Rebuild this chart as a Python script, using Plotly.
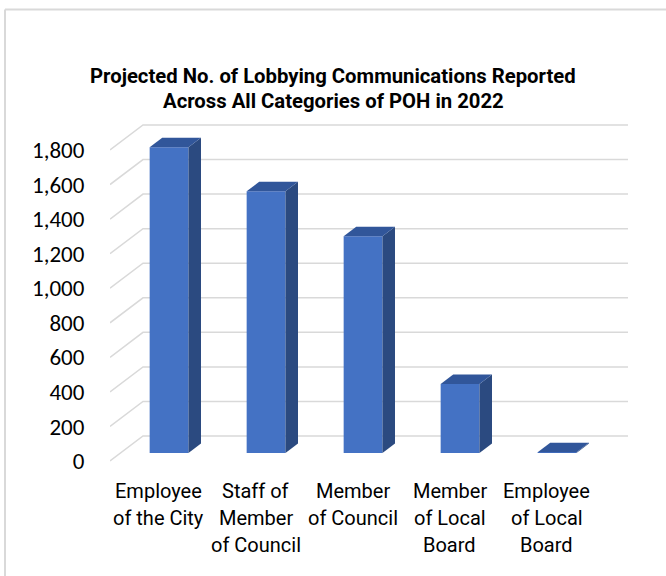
import plotly.graph_objects as go

# ---------------- data ----------------
categories = [
    ["Employee", "of the City"],
    ["Staff of", "Member", "of Council"],
    ["Member", "of Council"],
    ["Member", "of Local", "Board"],
    ["Employee", "of Local", "Board"],
]
values = [1770, 1515, 1255, 400, 5]
tick_values = [0, 200, 400, 600, 800, 1000, 1200, 1400, 1600, 1800]
tick_labels = ["0", "200", "400", "600", "800", "1,000", "1,200", "1,400", "1,600", "1,800"]
title_lines = ["Projected No. of Lobbying Communications Reported",
               "Across All Categories of POH in 2022"]

# ---------------- layout geometry (pixels) ----------------
W, H = 666, 576
ML, MR, MT, MB = 110, 32, 119, 106
PW, PH = W - ML - MR, H - MT - MB
PX_PER_CAT = 97.0
ZERO_PX = 461.0                 # pixel row of value 0 on the front plane
PX_PER_UNIT = 311.0 / 1800.0
DEPTH_PX_X, DEPTH_PX_Y = 33.0, 25.0

x_range = [0, PW / PX_PER_CAT]
y_bottom = -((MT + PH) - ZERO_PX) / PX_PER_UNIT
y_top = (ZERO_PX - MT) / PX_PER_UNIT
DX = DEPTH_PX_X / PX_PER_CAT
DY = DEPTH_PX_Y / PX_PER_UNIT
F1, F2 = 0.32, 0.70   # bar front / back depth fractions
BAR_W = 0.40

FRONT = "#4472C4"
TOP = "#31569a"
SIDE = "#2b4a80"
GRID = "#d9d9d9"

n = len(values)
fig = go.Figure()

shapes = []
# 3D gridlines: side wall diagonal + back wall horizontal (below the bars)
for v in tick_values:
    shapes.append(dict(
        type="path", xref="x", yref="y", layer="below",
        path=f"M 0 {v} L {DX} {v + DY} L {n + DX} {v + DY}",
        line=dict(color=GRID, width=1.5)))

# bars
bx = [i + 0.5 + F1 * DX for i in range(n)]
base = F1 * DY
dd_x = (F2 - F1) * DX
dd_y = (F2 - F1) * DY
fig.add_trace(go.Bar(
    x=bx, y=values, base=[base] * n, width=BAR_W,
    marker=dict(color=FRONT, line=dict(width=0)), hoverinfo="skip", showlegend=False))

for i, v in enumerate(values):
    xl = bx[i] - BAR_W / 2
    xr = bx[i] + BAR_W / 2
    top = base + v
    # side face
    fig.add_trace(go.Scatter(
        x=[xr, xr, xr + dd_x, xr + dd_x, xr],
        y=[base, top, top + dd_y, base + dd_y, base],
        mode="lines", fill="toself", fillcolor=SIDE, line=dict(width=0),
        hoverinfo="skip", showlegend=False))
    # top face
    fig.add_trace(go.Scatter(
        x=[xl, xr, xr + dd_x, xl + dd_x, xl],
        y=[top, top, top + dd_y, top + dd_y, top],
        mode="lines", fill="toself", fillcolor=TOP, line=dict(width=0),
        hoverinfo="skip", showlegend=False))

annotations = []
# category labels, one annotation per line
LABEL_FONT = dict(family="Roboto, Liberation Sans, sans-serif", size=20, color="#000000")
LINE0_PX, LINE_STEP = 490.5, 27.3
for i, lines in enumerate(categories):
    for j, txt in enumerate(lines):
        annotations.append(dict(
            x=i + 0.5, xref="x", y=0, yref="paper", yanchor="middle", xanchor="center",
            yshift=-(LINE0_PX + j * LINE_STEP - (MT + PH)),
            text=txt, showarrow=False, font=LABEL_FONT))

# title
TITLE_FONT = dict(family="Roboto, Liberation Sans, sans-serif", size=20.3, color="#000000")
for txt, py in zip(title_lines, [76, 101]):
    annotations.append(dict(
        x=(333 - ML) / PW, xref="paper", y=(MT + PH - py) / PH, yref="paper",
        xanchor="center", yanchor="middle", text="<b>" + txt + "</b>",
        showarrow=False, font=TITLE_FONT))

def px_x(p):
    return (p - ML) / PW

def px_y(p):
    return (MT + PH - p) / PH

shapes += [
    dict(type="line", xref="paper", yref="paper", x0=px_x(5), x1=px_x(667),
         y0=px_y(9.5), y1=px_y(9.5), line=dict(color="#d9d9d9", width=2)),
    dict(type="line", xref="paper", yref="paper", x0=px_x(5), x1=px_x(5),
         y0=px_y(9.5), y1=px_y(577), line=dict(color="#d9d9d9", width=2)),
]

fig.update_layout(
    width=W, height=H,
    margin=dict(l=ML, r=MR, t=MT, b=MB, pad=0),
    paper_bgcolor="white", plot_bgcolor="rgba(0,0,0,0)",
    showlegend=False, barmode="overlay",
    annotations=annotations, shapes=shapes,
    xaxis=dict(range=x_range, showgrid=False, zeroline=False, showticklabels=False,
               showline=False, ticks="", fixedrange=True),
    yaxis=dict(range=[y_bottom, y_top], tickvals=tick_values, ticktext=tick_labels,
               showgrid=False, zeroline=False, showline=False,
               ticks="outside", ticklen=20, tickcolor="rgba(0,0,0,0)",
               tickfont=dict(family="Carlito, Lato, sans-serif", size=23, color="#000000"),
               fixedrange=True),
)

fig.write_html("out.html", config={"displayModeBar": False},
               post_script="document.body.style.margin='0px';document.body.style.overflow='hidden';")
